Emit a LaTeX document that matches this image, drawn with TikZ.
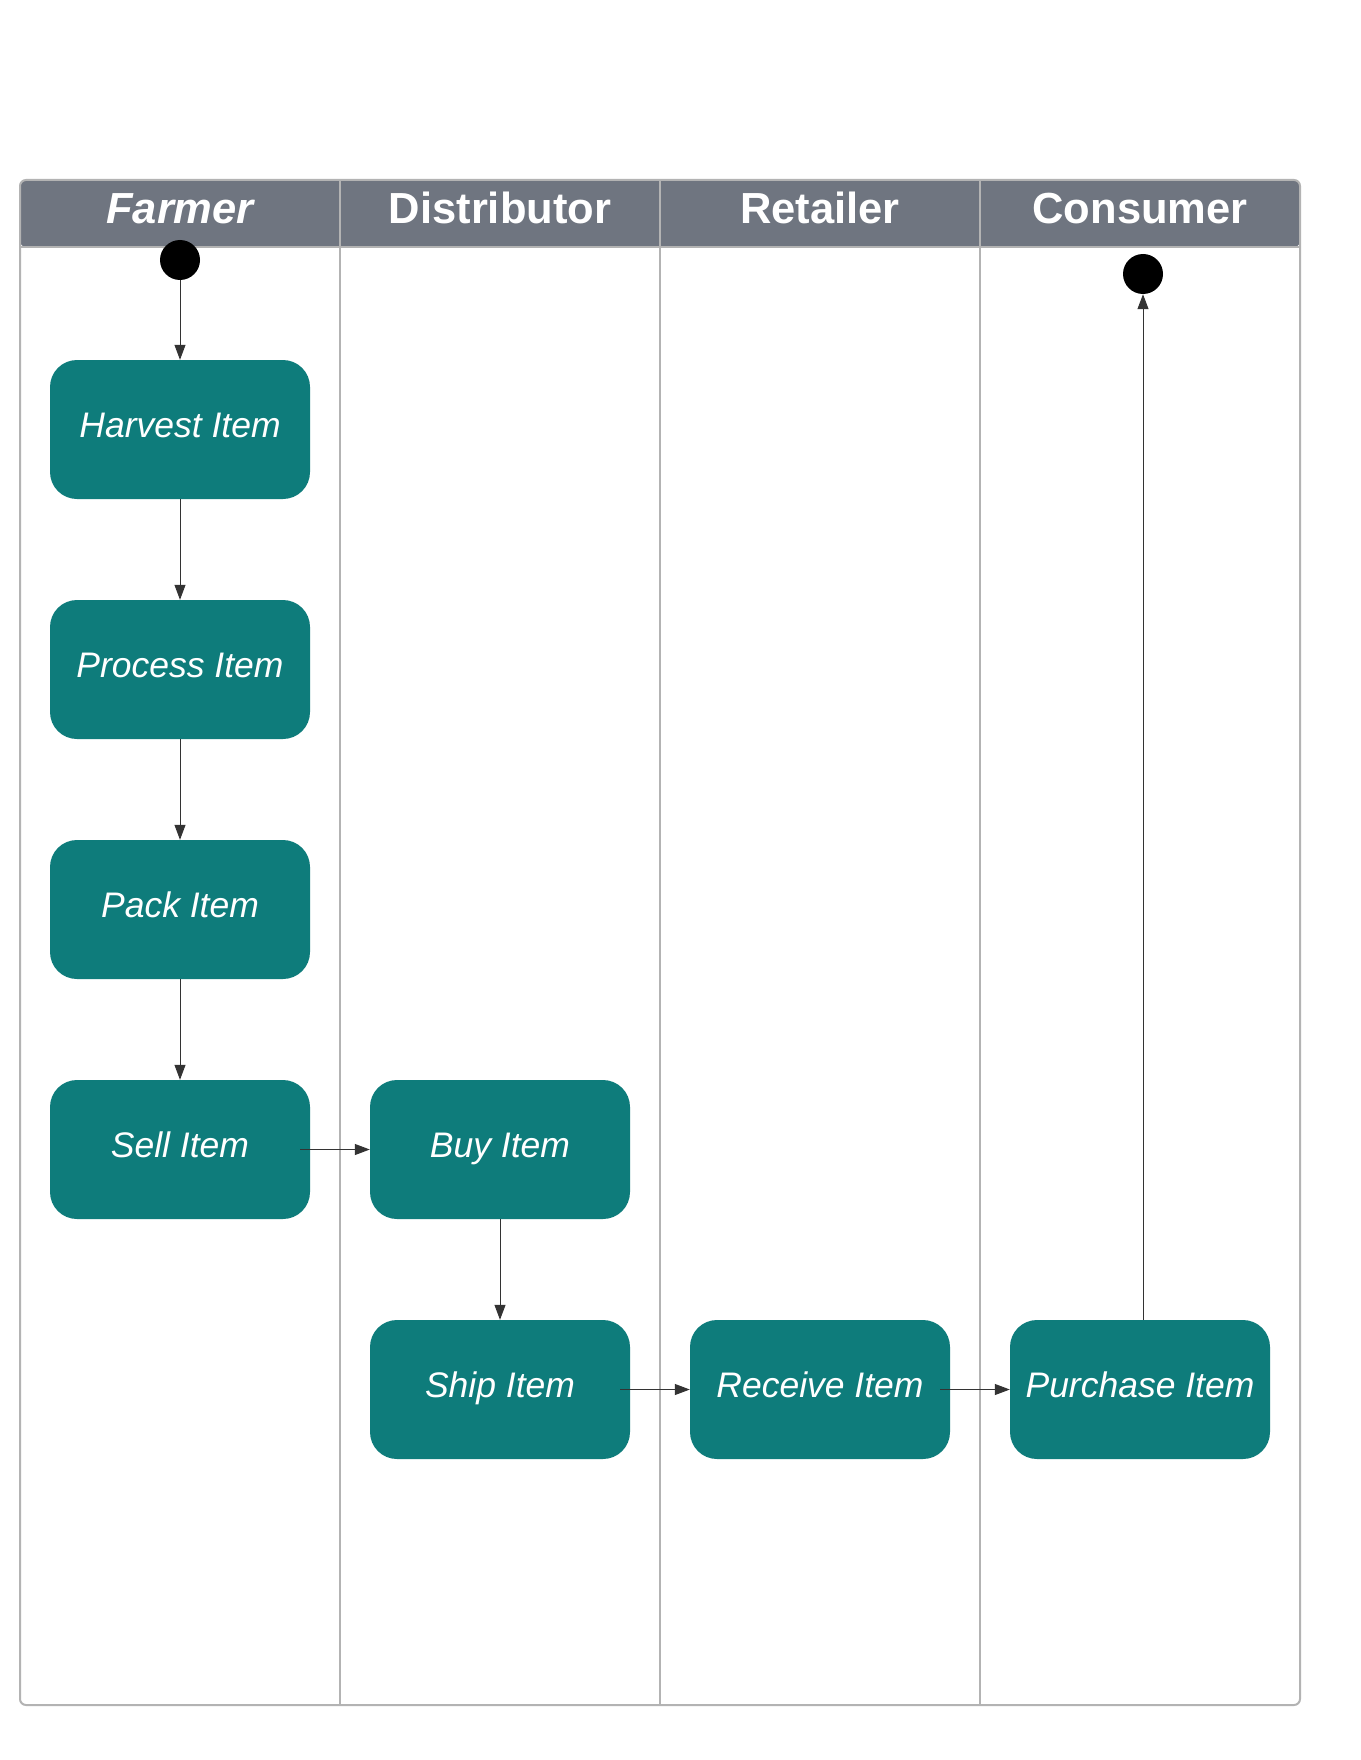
\documentclass[tikz,border=0pt]{standalone}
\usepackage{fontspec}
\setmainfont{Liberation Sans}
\usetikzlibrary{arrows.meta,positioning}
\definecolor{teal1}{HTML}{0E7C7B}
\definecolor{hdr}{HTML}{6F7580}
\definecolor{lanegray}{HTML}{B3B3B3}
\definecolor{arr}{HTML}{333333}
\tikzset{
  actbox/.style={fill=teal1, draw=none, rounded corners=27pt, minimum width=260pt, minimum height=139pt,
    inner sep=0pt, text=white, font=\fontsize{35.5}{41}\selectfont\itshape, text height=24pt, text depth=7.6pt},
  lanehead/.style={text=white, font=\fontsize{43.5}{50}\selectfont\bfseries, text height=30pt, text depth=9.5pt, inner sep=0pt},
  flow/.style={draw=arr, line width=1pt, -{Triangle[length=15pt,width=11pt]}},
  dot/.style={circle, fill=black, minimum size=40pt, inner sep=0pt},
  laneline/.style={draw=lanegray, line width=2pt}
}
\begin{document}
\begin{tikzpicture}[x=1pt,y=-1pt]
\useasboundingbox (0,0) rectangle (1360,1760);
\fill[white] (0,0) rectangle (1360,1760);
% header band
\fill[hdr, rounded corners=6pt] (20,180) -- (1300,180) -- (1300,247) -- (20,247) -- cycle;
% frame
\draw[laneline, rounded corners=6pt] (20,180) rectangle (1300,1705);
\draw[laneline] (20,247) -- (1300,247);
\draw[laneline] (340,180) -- (340,1705);
\draw[laneline] (660,180) -- (660,1705);
\draw[laneline] (980,180) -- (980,1705);
% headers
\node[lanehead] (hfarmer) at (180,213.5) {\itshape Farmer};
\node[lanehead] (hdist) at (500,213.5) {Distributor};
\node[lanehead] (hret) at (820,213.5) {Retailer};
\node[lanehead] (hcons) at (1140,213.5) {Consumer};
% start / end
\node[dot] (start) at (180,260) {};
\node[dot] (end) at (1143,274) {};
% activities
\node[actbox] (harvest) at (180,429.5) {Harvest Item};
\node[actbox] (process) at (180,669.5) {Process Item};
\node[actbox] (pack) at (180,909.5) {Pack Item};
\node[actbox] (sell) at (180,1149.5) {Sell Item};
\node[actbox] (buy) at (500,1149.5) {Buy Item};
\node[actbox] (ship) at (500,1389.5) {Ship Item};
\node[actbox] (receive) at (820,1389.5) {Receive Item};
\node[actbox] (purchase) at (1140,1389.5) {Purchase Item};
% flows
\draw[flow] (start) -- (harvest);
\draw[flow] (harvest) -- (process);
\draw[flow] (process) -- (pack);
\draw[flow] (pack) -- (sell);
\draw[flow] ([xshift=-10pt]sell.east) -- (buy.west);
\draw[flow] (buy) -- (ship);
\draw[flow] ([xshift=-10pt]ship.east) -- (receive.west);
\draw[flow] ([xshift=-10pt]receive.east) -- (purchase.west);
\draw[flow] (purchase.north -| end) -- (end);
\end{tikzpicture}
\end{document}
